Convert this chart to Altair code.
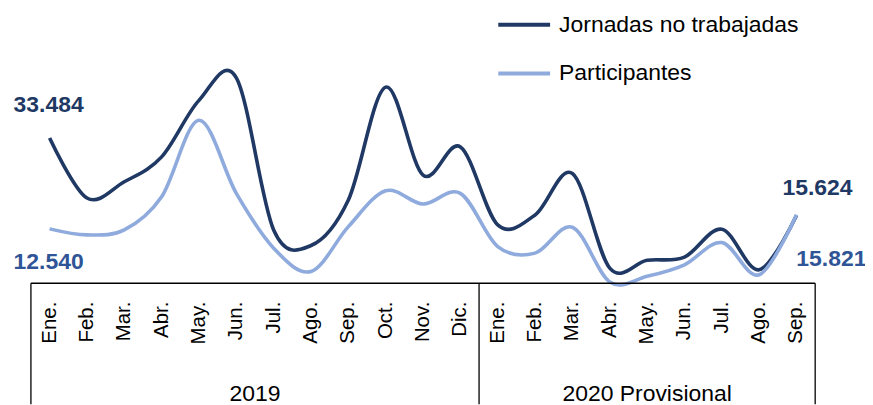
import altair as alt
import pandas as pd

months = ["Ene.", "Feb.", "Mar.", "Abr.", "May.", "Jun.", "Jul.", "Ago.", "Sep.", "Oct.", "Nov.", "Dic.",
          "Ene.", "Feb.", "Mar.", "Abr.", "May.", "Jun.", "Jul.", "Ago.", "Sep."]
years = ["2019"] * 12 + ["2020 Provisional"] * 9
series_names = ["Jornadas no trabajadas", "Participantes"]
jornadas = [33484, 19655, 23402, 29149, 42184, 47400, 12299, 8700, 19195, 45241, 24943, 31448,
            13448, 15747, 25333, 3494, 5300, 6023, 12460, 3103, 15624]
participantes = [12540, 11149, 12299, 19954, 37586, 20736, 8092, 2713, 13057, 21333, 18276, 20736,
                 8460, 6943, 12920, 300, 1600, 4253, 9379, 1954, 15821]

DARK = "#203864"
LIGHT = "#8FAADC"
LABEL_DARK = "#203864"
LABEL_LIGHT = "#2F5597"
FONT = "Liberation Sans"

n = len(months)
rows = []
for i in range(n):
    rows.append({"idx": i, "serie": series_names[0], "valor": jornadas[i]})
    rows.append({"idx": i, "serie": series_names[1], "valor": participantes[i]})
df = pd.DataFrame(rows)

def fmt(v):
    return f"{v:,}".replace(",", ".")

df["label"] = df["valor"].apply(fmt)

mdf = pd.DataFrame({"idx": list(range(n)), "mes": months, "anio": years})
ydf = mdf.groupby("anio", as_index=False).agg(centro=("idx", "mean"), ini=("idx", "min"), fin=("idx", "max"))
bounds = sorted(set([r - 0.5 for r in ydf["ini"]] + [r + 0.5 for r in ydf["fin"]]))
bdf = pd.DataFrame({"b": bounds})

H = 397
Y_MAX = 63337
Y_MIN = -(H - 275.5) * 229.9
xs = alt.Scale(domain=[-0.5, n - 0.5], nice=False, zero=False)
ys = alt.Scale(domain=[Y_MIN, Y_MAX], nice=False, zero=False)

lines = alt.Chart(df).mark_line(interpolate="cardinal", strokeWidth=3.6).encode(
    x=alt.X("idx:Q", scale=xs, axis=None),
    y=alt.Y("valor:Q", scale=ys, axis=None),
    color=alt.Color(
        "serie:N",
        scale=alt.Scale(domain=series_names, range=[DARK, LIGHT]),
        legend=alt.Legend(
            title=None, orient="none", legendX=467, legendY=-12,
            symbolType="stroke", symbolSize=2704, symbolStrokeWidth=4,
            labelFontSize=23, labelFont=FONT, labelColor="black",
            labelOffset=7, rowPadding=9, padding=0, labelLimit=400,
        ),
    ),
)

top_rule = alt.Chart(pd.DataFrame({"a": [bounds[0]], "b": [bounds[-1]], "z": [0]})).mark_rule(
    color="black", strokeWidth=1.6
).encode(
    x=alt.X("a:Q", scale=xs, axis=None),
    x2="b:Q",
    y=alt.Y("z:Q", scale=ys, axis=None),
)

vrules = alt.Chart(bdf).mark_rule(color="black", strokeWidth=1.3).encode(
    x=alt.X("b:Q", scale=xs, axis=None),
    y=alt.Y(datum=0, scale=ys, axis=None),
    y2=alt.value(H),
)

month_text = alt.Chart(mdf).mark_text(
    angle=270, align="right", baseline="middle", fontSize=20.5, font=FONT, color="black"
).encode(
    x=alt.X("idx:Q", scale=xs, axis=None),
    y=alt.value(294),
    text="mes:N",
)

year_text = alt.Chart(ydf).mark_text(
    align="center", baseline="alphabetic", fontSize=23, font=FONT, color="black"
).encode(
    x=alt.X("centro:Q", scale=xs, axis=None),
    y=alt.value(394),
    text="anio:N",
)

def label_layer(serie, i, color, dx, dy):
    d = df[(df["serie"] == serie) & (df["idx"] == i)]
    return alt.Chart(d).mark_text(
        fontSize=23, fontWeight="bold", font=FONT, color=color,
        align="center", baseline="middle", dx=dx, dy=dy,
    ).encode(
        x=alt.X("idx:Q", scale=xs, axis=None),
        y=alt.Y("valor:Q", scale=ys, axis=None),
        text="label:N",
    )

labels = [
    label_layer(series_names[0], 0, LABEL_DARK, -1, -33),
    label_layer(series_names[1], 0, LABEL_LIGHT, -1, 33),
    label_layer(series_names[0], n - 1, LABEL_DARK, 21, -28),
    label_layer(series_names[1], n - 1, LABEL_LIGHT, 35, 45),
]

chart = alt.layer(lines, top_rule, vrules, month_text, year_text, *labels).properties(
    width=787,
    height=H,
    padding={"left": 23, "top": 0, "right": 50, "bottom": 0},
    autosize=alt.AutoSizeParams(type="none"),
).configure_view(stroke=None)

chart.save("out.html", embed_options={"renderer": "svg", "actions": False})
